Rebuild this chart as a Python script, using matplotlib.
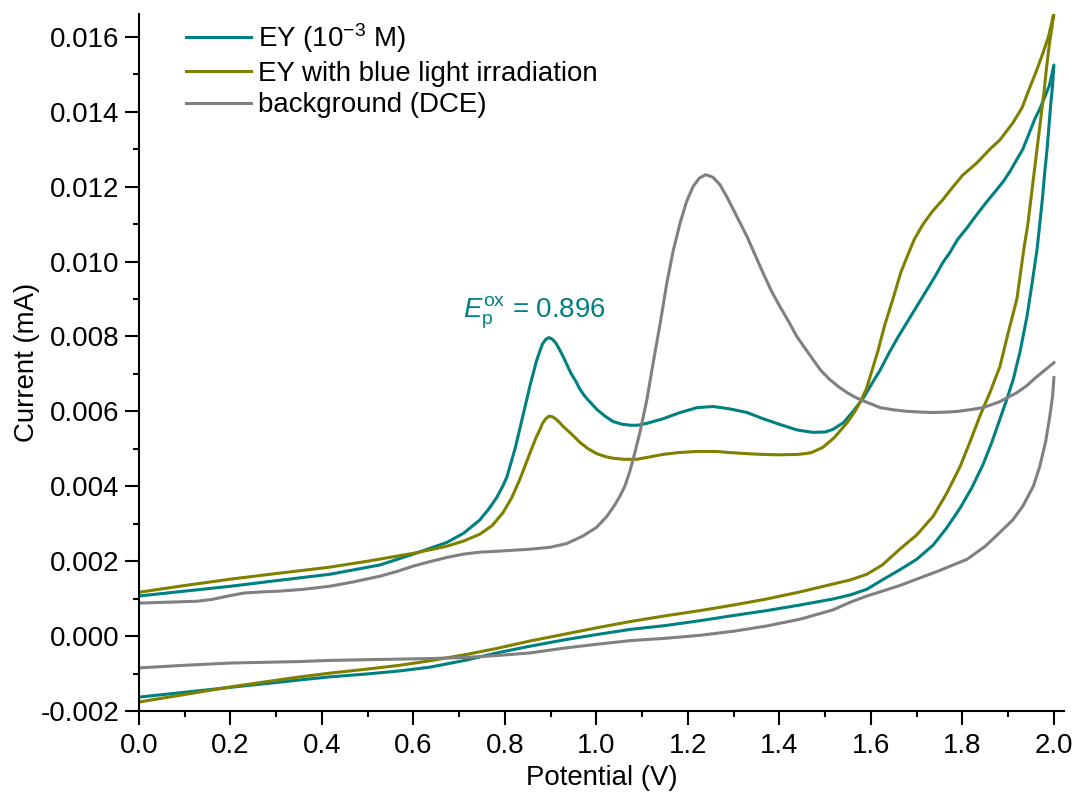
import matplotlib
matplotlib.use("Agg")
import matplotlib.pyplot as plt
from matplotlib.ticker import MultipleLocator, FormatStrFormatter

plt.rcParams["font.family"] = ["Liberation Sans", "DejaVu Sans"]
plt.rcParams["mathtext.fontset"] = "custom"
plt.rcParams["mathtext.rm"] = "Liberation Sans"
plt.rcParams["mathtext.it"] = "Liberation Sans:italic"
plt.rcParams["axes.unicode_minus"] = False

# ---- cyclic voltammograms: forward scan (0 -> 2.0 V) then reverse scan (2.0 -> 0 V) ----
# EY (1e-3 M)
ey_fwd_v = [0.0, 0.1, 0.2, 0.3, 0.417, 0.527, 0.6, 0.673, 0.71, 0.745, 0.765, 0.782, 0.795,
            0.804, 0.822, 0.839, 0.855, 0.869, 0.876, 0.882, 0.889, 0.896, 0.903, 0.911,
            0.918, 0.927, 0.936, 0.945, 0.955, 0.964, 0.973, 0.982, 0.992, 1.001, 1.018,
            1.036, 1.055, 1.073, 1.09, 1.11, 1.145, 1.183, 1.22, 1.255, 1.29, 1.329, 1.365,
            1.401, 1.44, 1.473, 1.5, 1.517, 1.54, 1.561, 1.583, 1.6, 1.62, 1.64, 1.66, 1.68,
            1.7, 1.72, 1.74, 1.757, 1.773, 1.79, 1.81, 1.828, 1.845, 1.86, 1.875, 1.89,
            1.905, 1.92, 1.932, 1.945, 1.958, 1.97, 1.98, 1.99, 2.0]
ey_fwd_i = [0.00107, 0.0012, 0.00133, 0.00148, 0.00165, 0.0019, 0.00219, 0.0025, 0.00275,
            0.0031, 0.0034, 0.0037, 0.004, 0.00424, 0.005, 0.00587, 0.0067, 0.00735, 0.0076,
            0.0078, 0.00792, 0.00797, 0.00793, 0.00783, 0.00768, 0.00747, 0.00723, 0.007,
            0.0068, 0.00659, 0.00643, 0.0063, 0.00617, 0.00605, 0.00588, 0.00573, 0.00566,
            0.00563, 0.00563, 0.00568, 0.0058, 0.00597, 0.0061, 0.00613, 0.00607, 0.00597,
            0.0058, 0.00565, 0.0055, 0.00544, 0.00545, 0.00552, 0.0057, 0.006, 0.00635,
            0.0067, 0.0071, 0.00757, 0.008, 0.0084, 0.0088, 0.0092, 0.0096, 0.00997, 0.01025,
            0.0106, 0.0109, 0.0112, 0.01147, 0.0117, 0.01192, 0.01215, 0.01243, 0.01275,
            0.013, 0.0134, 0.0138, 0.0141, 0.0144, 0.0147, 0.01525]
ey_rev_v = [1.997, 1.993, 1.989, 1.985, 1.98, 1.975, 1.969, 1.963, 1.952, 1.941, 1.926,
            1.911, 1.895, 1.882, 1.865, 1.845, 1.82, 1.795, 1.765, 1.736, 1.7, 1.663, 1.625,
            1.591, 1.555, 1.517, 1.445, 1.372, 1.3, 1.226, 1.15, 1.075, 1.0, 0.93, 0.855,
            0.782, 0.716, 0.636, 0.57, 0.5, 0.417, 0.352, 0.3, 0.199, 0.1, 0.0]
ey_rev_i = [0.0147, 0.0142, 0.0136, 0.013, 0.0124, 0.0117, 0.011, 0.01032, 0.0094, 0.00853,
            0.0076, 0.00685, 0.00625, 0.0058, 0.0052, 0.00458, 0.00395, 0.00342, 0.00288,
            0.00243, 0.00205, 0.00177, 0.0015, 0.00125, 0.0011, 0.00099, 0.00083, 0.00068,
            0.00055, 0.00041, 0.00028, 0.00018, 0.00004, -0.0001, -0.00027, -0.00045,
            -0.00064, -0.00083, -0.00093, -0.00101, -0.00109, -0.00117, -0.00124, -0.00137,
            -0.0015, -0.00163]

# EY with blue light irradiation
eyb_fwd_v = [0.0, 0.1, 0.2, 0.3, 0.417, 0.5, 0.6, 0.673, 0.71, 0.745, 0.772, 0.796, 0.815,
             0.833, 0.845, 0.855, 0.869, 0.876, 0.882, 0.889, 0.896, 0.903, 0.911, 0.918,
             0.927, 0.945, 0.955, 0.964, 0.982, 1.001, 1.02, 1.036, 1.06, 1.088, 1.115,
             1.145, 1.18, 1.22, 1.26, 1.292, 1.33, 1.364, 1.4, 1.438, 1.455, 1.47, 1.495,
             1.52, 1.548, 1.565, 1.576, 1.59, 1.6, 1.615, 1.63, 1.648, 1.665, 1.679, 1.695,
             1.714, 1.735, 1.757, 1.773, 1.8, 1.832, 1.86, 1.882, 1.91, 1.93, 1.948, 1.962,
             1.976, 1.988, 1.998, 2.0]
eyb_fwd_i = [0.00117, 0.00135, 0.00152, 0.00167, 0.00184, 0.002, 0.00221, 0.0024, 0.00254,
             0.00272, 0.00295, 0.0033, 0.0037, 0.0042, 0.00458, 0.0049, 0.00533, 0.0055,
             0.00568, 0.0058, 0.00587, 0.00586, 0.0058, 0.00572, 0.0056, 0.0054, 0.00528,
             0.00517, 0.005, 0.00487, 0.00479, 0.00475, 0.00472, 0.00472, 0.00478, 0.00485,
             0.0049, 0.00493, 0.00493, 0.0049, 0.00487, 0.00485, 0.00484, 0.00485, 0.00487,
             0.0049, 0.00504, 0.0053, 0.0057, 0.006, 0.00624, 0.0066, 0.007, 0.0076, 0.0083,
             0.009, 0.0097, 0.01013, 0.0106, 0.011, 0.01135, 0.01165, 0.0119, 0.0123,
             0.01264, 0.013, 0.01325, 0.0137, 0.0141, 0.01467, 0.0151, 0.01557, 0.016,
             0.01653, 0.01664]
eyb_rev_v = [1.995, 1.99, 1.984, 1.978, 1.972, 1.965, 1.958, 1.95, 1.943, 1.935, 1.927,
             1.919, 1.9, 1.882, 1.86, 1.838, 1.817, 1.795, 1.765, 1.736, 1.7, 1.663, 1.625,
             1.591, 1.555, 1.517, 1.445, 1.372, 1.3, 1.226, 1.15, 1.075, 1.0, 0.93, 0.855,
             0.782, 0.716, 0.636, 0.57, 0.5, 0.417, 0.352, 0.3, 0.199, 0.1, 0.0]
eyb_rev_i = [0.0162, 0.0158, 0.0152, 0.0145, 0.0139, 0.0132, 0.0125, 0.0117, 0.011, 0.0104,
             0.0097, 0.009, 0.0081, 0.0072, 0.0065, 0.00587, 0.0052, 0.00453, 0.0038, 0.0032,
             0.0027, 0.00232, 0.0019, 0.00165, 0.0015, 0.00139, 0.00118, 0.00099, 0.00083,
             0.00068, 0.00054, 0.00039, 0.00022, 0.00005, -0.00013, -0.00033, -0.00049,
             -0.00066, -0.00078, -0.00088, -0.00099, -0.00109, -0.00118, -0.00136, -0.00156,
             -0.00176]

# background (DCE)
bg_fwd_v = [0.0, 0.127, 0.16, 0.199, 0.23, 0.27, 0.308, 0.36, 0.417, 0.47, 0.527, 0.565,
            0.6, 0.64, 0.673, 0.71, 0.745, 0.789, 0.855, 0.898, 0.935, 0.97, 1.0, 1.023,
            1.04, 1.051, 1.062, 1.073, 1.084, 1.095, 1.11, 1.124, 1.14, 1.154, 1.168, 1.183,
            1.197, 1.211, 1.225, 1.239, 1.255, 1.27, 1.285, 1.307, 1.329, 1.346, 1.364,
            1.383, 1.401, 1.42, 1.438, 1.455, 1.473, 1.49, 1.51, 1.53, 1.548, 1.565, 1.583,
            1.6, 1.62, 1.65, 1.68, 1.71, 1.736, 1.765, 1.79, 1.82, 1.845, 1.88, 1.919, 1.94,
            1.96, 1.98, 2.0]
bg_fwd_i = [0.00088, 0.00093, 0.00098, 0.00108, 0.00115, 0.00118, 0.0012, 0.00125, 0.00133,
            0.00145, 0.0016, 0.00173, 0.00187, 0.002, 0.0021, 0.00219, 0.00224, 0.00227,
            0.00232, 0.00237, 0.00247, 0.00267, 0.0029, 0.0032, 0.0035, 0.00373, 0.004,
            0.0044, 0.0049, 0.00544, 0.0063, 0.0073, 0.0084, 0.00944, 0.0103, 0.01104,
            0.0116, 0.012, 0.01223, 0.01232, 0.01225, 0.01205, 0.01173, 0.0112, 0.01067,
            0.0102, 0.0097, 0.0092, 0.0088, 0.0084, 0.008, 0.0077, 0.00739, 0.0071, 0.00685,
            0.00665, 0.0065, 0.00638, 0.00628, 0.0062, 0.0061, 0.00604, 0.006, 0.00598,
            0.00597, 0.00598, 0.006, 0.00605, 0.0061, 0.00625, 0.0065, 0.00668, 0.0069,
            0.0071, 0.0073]
bg_rev_v = [2.0, 1.997, 1.991, 1.982, 1.969, 1.955, 1.932, 1.91, 1.882, 1.85, 1.81, 1.78,
            1.75, 1.7, 1.663, 1.625, 1.591, 1.554, 1.517, 1.445, 1.372, 1.3, 1.226, 1.15,
            1.075, 1.0, 0.93, 0.855, 0.782, 0.716, 0.636, 0.5, 0.417, 0.352, 0.199, 0.1, 0.0]
bg_rev_i = [0.0069, 0.0064, 0.00587, 0.0052, 0.00453, 0.004, 0.00347, 0.0031, 0.00277,
            0.0024, 0.00205, 0.0019, 0.00175, 0.00152, 0.00135, 0.0012, 0.00107, 0.0009,
            0.0007, 0.00045, 0.00027, 0.00013, 0.00002, -0.00006, -0.00012, -0.00022,
            -0.00032, -0.00045, -0.00052, -0.00057, -0.0006, -0.00063, -0.00065, -0.00068,
            -0.00072, -0.00078, -0.00085]

series_labels = ["EY (10$^{-3}$ M)", "EY with blue light irradiation", "background (DCE)"]
series_colors = ["#008080", "#808000", "#808080"]
peak_label = r"$\mathit{E}_\mathrm{p}^\mathrm{ox}$ = 0.896"

FS = 19.9
LW = 2.2
fig = plt.figure(figsize=(10.79, 7.92), dpi=100)
ax = fig.add_axes([0.1288, 0.1023, 0.8573, 0.88])

# EY curves: one continuous trace each
ax.plot(ey_fwd_v + ey_rev_v, ey_fwd_i + ey_rev_i, color=series_colors[0], lw=LW,
        label=series_labels[0])
ax.plot(eyb_fwd_v + eyb_rev_v, eyb_fwd_i + eyb_rev_i, color=series_colors[1], lw=LW,
        label=series_labels[1])
# background: forward and reverse sweeps are recorded as separate traces
ax.plot(bg_fwd_v, bg_fwd_i, color=series_colors[2], lw=LW, label=series_labels[2])
ax.plot(bg_rev_v, bg_rev_i, color=series_colors[2], lw=LW)

ax.set_xlim(0, 2.022)
ax.set_ylim(-0.002, 0.01661)

ax.xaxis.set_major_locator(MultipleLocator(0.2))
ax.xaxis.set_minor_locator(MultipleLocator(0.1))
ax.yaxis.set_major_locator(MultipleLocator(0.002))
ax.yaxis.set_minor_locator(MultipleLocator(0.001))
ax.xaxis.set_major_formatter(FormatStrFormatter("%.1f"))
ax.yaxis.set_major_formatter(FormatStrFormatter("%.3f"))

for s in ("top", "right"):
    ax.spines[s].set_visible(False)
for s in ("left", "bottom"):
    ax.spines[s].set_linewidth(1.5)

ax.tick_params(which="major", direction="out", length=10, width=1.5, labelsize=FS, pad=4)
ax.tick_params(which="minor", direction="out", length=4.5, width=1.5)
ax.tick_params(axis="x", which="major", pad=6)

ax.set_xlabel("Potential (V)", fontsize=FS, labelpad=4)
ax.set_ylabel("Current (mA)", fontsize=FS, labelpad=0.5)

ax.text(0.708, 0.0085, peak_label, color=series_colors[0], fontsize=FS,
        ha="left", va="baseline")

ax.legend(loc="upper left", bbox_to_anchor=(0.0508, 0.99), frameon=False, fontsize=FS,
          handlelength=2.34, handletextpad=0.25, labelspacing=0.21, borderpad=0,
          borderaxespad=0)

fig.savefig("out.png", dpi=100)
